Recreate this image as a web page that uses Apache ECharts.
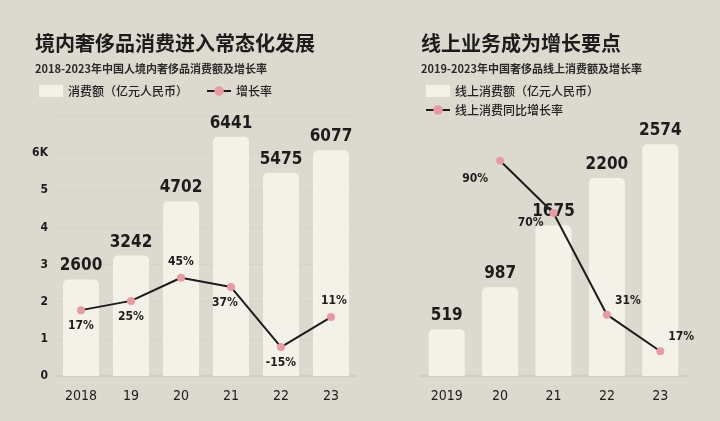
<!DOCTYPE html>
<html>
<head>
<meta charset="utf-8">
<script src="https://cdn.jsdelivr.net/npm/echarts@6/dist/echarts.min.js"></script>
<style>
  html, body { margin: 0; padding: 0; background: #dcd9cf; }
  #main { width: 720px; height: 421px; }
</style>
</head>
<body>
<div id="main"></div>
<script>
// left chart: 境内消费
var yearsLeft = ['2018', '19', '20', '21', '22', '23'];
var spendLeft = [2600, 3242, 4702, 6441, 5475, 6077];
var growthLeft = [17, 25, 45, 37, -15, 11];

// right chart: 线上消费
var yearsRight = ['2019', '20', '21', '22', '23'];
var spendRight = [519, 987, 1675, 2200, 2574];
var growthRight = [null, 90, 70, 31, 17];

var numFont = '"DejaVu Sans Condensed", "Roboto", sans-serif';
var cjkFont = '"Noto Sans CJK SC", sans-serif';
var barColor = '#f4f2e8';
var dotColor = '#e89aa3';
var ink = '#1c1c1c';

var chart = echarts.init(document.getElementById('main'));

// label placement for each growth point
var leftLine = growthLeft.map(function (v, i) {
    var lbl = { position: 'bottom' };
    if (i == 2) lbl = { position: 'top' };
    if (i == 3) lbl = { position: 'bottom', offset: [-6, 0] };
    if (i == 5) lbl = { position: 'top', offset: [3, 0] };
    return { value: v, label: lbl };
});

var rightLine = growthRight.map(function (v, i) {
    var lbl = { position: 'right', offset: [0, -14] };
    if (i == 1) lbl = { position: 'left', offset: [-4, 18] };
    if (i == 2) lbl = { position: 'left', offset: [-2, 10] };
    return { value: v, label: lbl };
});

option = {
    backgroundColor: '#dcd9cf',
    animation: false,
    title: [
        {
            text: '境内奢侈品消费进入常态化发展',
            subtext: '2018-2023年中国人境内奢侈品消费额及增长率',
            left: 30, top: 28, itemGap: 10,
            textStyle: { fontFamily: cjkFont, fontSize: 20, fontWeight: 'bold', color: ink },
            subtextStyle: { fontFamily: cjkFont, fontSize: 11, fontWeight: 'bold', color: '#2a2a2a' }
        },
        {
            text: '线上业务成为增长要点',
            subtext: '2019-2023年中国奢侈品线上消费额及增长率',
            left: 416, top: 28, itemGap: 10,
            textStyle: { fontFamily: cjkFont, fontSize: 20, fontWeight: 'bold', color: ink },
            subtextStyle: { fontFamily: cjkFont, fontSize: 11, fontWeight: 'bold', color: '#2a2a2a' }
        }
    ],
    legend: [
        {
            data: [{ name: '消费额（亿元人民币）', icon: 'rect' }, '增长率'],
            left: 34, top: 80, itemWidth: 24, itemHeight: 12, itemGap: 18,
            textStyle: { fontFamily: cjkFont, fontSize: 12, fontWeight: 500, color: '#222' }
        },
        {
            data: [{ name: '线上消费额（亿元人民币）', icon: 'rect' }, '线上消费同比增长率'],
            left: 420, top: 80, orient: 'vertical', itemWidth: 24, itemHeight: 12, itemGap: 7,
            textStyle: { fontFamily: cjkFont, fontSize: 12, fontWeight: 500, color: '#222' }
        }
    ],
    grid: [
        { left: 56, width: 300, top: 116, bottom: 45 },
        { left: 420, width: 267, top: 106, bottom: 45 }
    ],
    xAxis: [
        {
            type: 'category', gridIndex: 0, data: yearsLeft,
            axisLine: { lineStyle: { color: '#cfccc1', width: 2 } },
            axisTick: { show: false },
            axisLabel: { fontFamily: numFont, fontSize: 14, color: ink, margin: 13 }
        },
        {
            type: 'category', gridIndex: 1, data: yearsRight,
            axisLine: { lineStyle: { color: '#cfccc1', width: 2 } },
            axisTick: { show: false },
            axisLabel: { fontFamily: numFont, fontSize: 14, color: ink, margin: 13 }
        }
    ],
    yAxis: [
        {
            type: 'value', gridIndex: 0, min: 0, max: 7000, interval: 1000,
            axisLine: { show: false }, axisTick: { show: false },
            splitLine: { lineStyle: { color: '#d5d2c8' } },
            axisLabel: {
                fontFamily: numFont, fontWeight: 'bold', fontSize: 12, color: ink, margin: 8,
                formatter: function (v) {
                    if (v == 7000) return '';
                    if (v == 6000) return '6K';
                    return v / 1000;
                }
            }
        },
        { type: 'value', gridIndex: 0, min: -40, max: 185, show: false },
        { type: 'value', gridIndex: 1, min: 0, max: 3000, show: false },
        { type: 'value', gridIndex: 1, min: 7.5, max: 111, show: false }
    ],
    series: [
        {
            name: '消费额（亿元人民币）', type: 'bar',
            xAxisIndex: 0, yAxisIndex: 0, data: spendLeft, barWidth: 36,
            itemStyle: { color: barColor, borderRadius: [5, 5, 0, 0] },
            label: {
                show: true, position: 'top', distance: 5,
                fontFamily: numFont, fontWeight: 'bold', fontSize: 17, color: ink
            }
        },
        {
            name: '增长率', type: 'line',
            xAxisIndex: 0, yAxisIndex: 1, data: leftLine,
            symbol: 'circle', symbolSize: 8,
            lineStyle: { color: ink, width: 2 },
            itemStyle: { color: dotColor },
            label: {
                show: true, formatter: '{c}%', distance: 6,
                fontFamily: numFont, fontWeight: 'bold', fontSize: 12, color: ink
            }
        },
        {
            name: '线上消费额（亿元人民币）', type: 'bar',
            xAxisIndex: 1, yAxisIndex: 2, data: spendRight, barWidth: 36,
            itemStyle: { color: barColor, borderRadius: [5, 5, 0, 0] },
            label: {
                show: true, position: 'top', distance: 5,
                fontFamily: numFont, fontWeight: 'bold', fontSize: 17, color: ink
            }
        },
        {
            name: '线上消费同比增长率', type: 'line',
            xAxisIndex: 1, yAxisIndex: 3, data: rightLine,
            symbol: 'circle', symbolSize: 8,
            lineStyle: { color: ink, width: 2 },
            itemStyle: { color: dotColor },
            label: {
                show: true, formatter: '{c}%', distance: 4,
                fontFamily: numFont, fontWeight: 'bold', fontSize: 12, color: ink
            }
        }
    ]
};

chart.setOption(option);
</script>
</body>
</html>
